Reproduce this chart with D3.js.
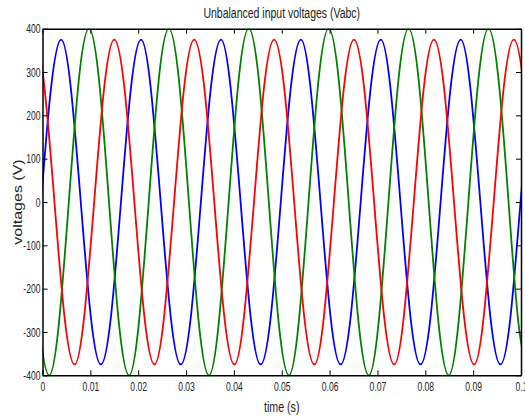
<!DOCTYPE html>
<html>
<head>
<meta charset="utf-8">
<script src="https://cdn.jsdelivr.net/npm/d3@7"></script>
<style>
body { margin: 0; background: #fff; }
text { font-family: "Liberation Sans", Arial, sans-serif; fill: #222; }
</style>
</head>
<body>
<script>
// values: peaks, zero crossings and the points in between
var blueT = [-0.0045,-0.0024,-0.0003,0.0018,0.0039,0.0059,0.0080,0.0101,
             0.0122,0.0143,0.0164,0.0185,0.0206,0.0226,0.0247,0.0268,
             0.0289,0.0310,0.0331,0.0352,0.0373,0.0393,0.0414,0.0435,
             0.0456,0.0477,0.0498,0.0519,0.0540,0.0560,0.0581,0.0602,
             0.0623,0.0644,0.0665,0.0686,0.0707,0.0727,0.0748,0.0769,
             0.0790,0.0811,0.0832,0.0853,0.0874,0.0894,0.0915,0.0936,
             0.0957,0.0978,0.0999,0.1020];
var blueV = [-375,-265,0,265,375,265,0,-265,
             -375,-265,0,265,375,265,0,-265,
             -375,-265,0,265,375,265,0,-265,
             -375,-265,0,265,375,265,0,-265,
             -375,-265,0,265,375,265,0,-265,
             -375,-265,0,265,375,265,0,-265,
             -375,-265,0,265];

var greenT = [-0.0028,-0.0007,0.0014,0.0034,0.0055,0.0076,0.0097,0.0118,
              0.0139,0.0160,0.0181,0.0201,0.0222,0.0243,0.0264,0.0285,
              0.0306,0.0327,0.0348,0.0368,0.0389,0.0410,0.0431,0.0452,
              0.0473,0.0494,0.0515,0.0535,0.0556,0.0577,0.0598,0.0619,
              0.0640,0.0661,0.0682,0.0702,0.0723,0.0744,0.0765,0.0786,
              0.0807,0.0828,0.0849,0.0869,0.0890,0.0911,0.0932,0.0953,
              0.0974,0.0995,0.1016];
var greenV = [0,-283,-400,-283,0,283,400,283,
              0,-283,-400,-283,0,283,400,283,
              0,-283,-400,-283,0,283,400,283,
              0,-283,-400,-283,0,283,400,283,
              0,-283,-400,-283,0,283,400,283,
              0,-283,-400,-283,0,283,400,283,
              0,-283,-400];

var redT = [-0.0038,-0.0017,0.0004,0.0025,0.0046,0.0067,0.0087,0.0108,
            0.0129,0.0150,0.0171,0.0192,0.0213,0.0234,0.0254,0.0275,
            0.0296,0.0317,0.0338,0.0359,0.0380,0.0401,0.0421,0.0442,
            0.0463,0.0484,0.0505,0.0526,0.0547,0.0568,0.0588,0.0609,
            0.0630,0.0651,0.0672,0.0693,0.0714,0.0735,0.0755,0.0776,
            0.0797,0.0818,0.0839,0.0860,0.0881,0.0902,0.0922,0.0943,
            0.0964,0.0985,0.1006,0.1027];
var redV = [265,375,265,0,-265,-375,-265,0,
            265,375,265,0,-265,-375,-265,0,
            265,375,265,0,-265,-375,-265,0,
            265,375,265,0,-265,-375,-265,0,
            265,375,265,0,-265,-375,-265,0,
            265,375,265,0,-265,-375,-265,0,
            265,375,265,0];

var xTicks = [0,0.01,0.02,0.03,0.04,0.05,0.06,0.07,0.08,0.09,0.1];
var yTicks = [-400,-300,-200,-100,0,100,200,300,400];

var titleText = "Unbalanced input voltages (Vabc)";
var xLabel = "time (s)";
var yLabel = "voltages (V)";

var W = 525, H = 418;
// plot box edges (don't call these top/left: window.top is read-only)
var boxL = 42.5, boxR = 521, boxT = 28.7, boxB = 375.3;

var svg = d3.select("body").append("svg")
    .attr("width", W)
    .attr("height", H);

var x = d3.scaleLinear().domain([0, 0.1]).range([boxL, boxR]);
var y = d3.scaleLinear().domain([-400, 400]).range([boxB, boxT]);

// clip the curves to the plot box
svg.append("clipPath").attr("id", "plotclip")
  .append("rect")
    .attr("x", boxL).attr("y", boxT)
    .attr("width", boxR - boxL).attr("height", boxB - boxT);

var line = d3.line()
    .x(function(d) { return x(d[0]); })
    .y(function(d) { return y(d[1]); })
    .curve(d3.curveNatural);

var series = [
  {t: blueT, v: blueV, color: "#0000ff"},
  {t: greenT, v: greenV, color: "#008000"},
  {t: redT, v: redV, color: "#ff0000"}
];

var g = svg.append("g").attr("clip-path", "url(#plotclip)");
series.forEach(function(s) {
  var pts = s.t.map(function(t, i) { return [t, s.v[i]]; });
  g.append("path")
    .attr("d", line(pts))
    .attr("fill", "none")
    .attr("stroke", s.color)
    .attr("stroke-width", 1.8);
});

// axes, ticks pointing inward like matlab
var fmt = function(d) { return String(d); };
var xb = svg.append("g").attr("transform", "translate(0," + boxB + ")")
  .call(d3.axisBottom(x).tickValues(xTicks).tickFormat(fmt).tickSizeInner(-5).tickSizeOuter(0).tickPadding(6));
var xt = svg.append("g").attr("transform", "translate(0," + boxT + ")")
  .call(d3.axisTop(x).tickValues(xTicks).tickFormat("").tickSizeInner(-5).tickSizeOuter(0));
var yl = svg.append("g").attr("transform", "translate(" + boxL + ",0)")
  .call(d3.axisLeft(y).tickValues(yTicks).tickFormat(fmt).tickSizeInner(-5).tickSizeOuter(0).tickPadding(3));
var yr = svg.append("g").attr("transform", "translate(" + boxR + ",0)")
  .call(d3.axisRight(y).tickValues(yTicks).tickFormat("").tickSizeInner(-5).tickSizeOuter(0));

svg.selectAll(".domain").attr("stroke", "#000").attr("stroke-width", 1.5);
svg.selectAll(".tick line").attr("stroke", "#000").attr("stroke-width", 1);

xb.selectAll(".tick text")
  .attr("font-size", 13).attr("fill", "#222")
  .attr("transform", "scale(0.66,1)");
yl.selectAll(".tick text")
  .attr("font-size", 13).attr("fill", "#222")
  .attr("transform", "scale(0.66,1)");

// title and axis labels
svg.append("text")
  .attr("transform", "translate(" + ((boxL + boxR) / 2) + ",17.5) scale(0.7,1)")
  .attr("text-anchor", "middle")
  .attr("font-size", 15)
  .text(titleText);

svg.append("text")
  .attr("transform", "translate(" + ((boxL + boxR) / 2) + ",412) scale(0.76,1)")
  .attr("text-anchor", "middle")
  .attr("font-size", 14)
  .text(xLabel);

svg.append("text")
  .attr("transform", "translate(21.5," + ((boxT + boxB) / 2) + ") rotate(-90) scale(1,0.75)")
  .attr("text-anchor", "middle")
  .attr("font-size", 16)
  .text(yLabel);
</script>
</body>
</html>
